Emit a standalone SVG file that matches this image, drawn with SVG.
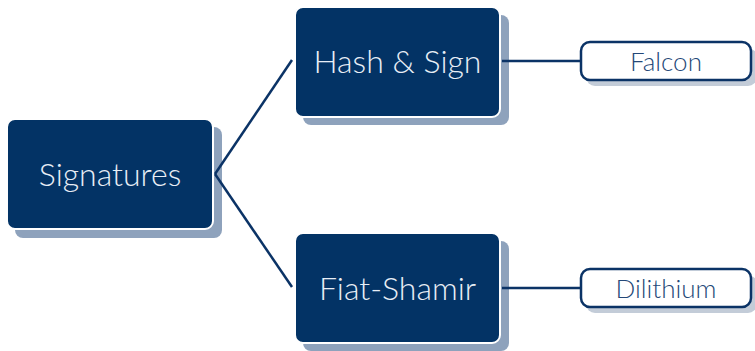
<svg xmlns="http://www.w3.org/2000/svg" width="755" height="351" viewBox="0 0 755 351">
  <style>
    .shadow { fill: #8ea2bc; }
    .box { fill: #033365; stroke: #ffffff; stroke-width: 2; }
    .label { font-family: Lato, "Open Sans", sans-serif; font-weight: 300; font-size: 32px; fill: #e8eef6; text-anchor: middle; dominant-baseline: central; }
    .leaf-shadow { fill: #c3ccd8; }
    .leaf { fill: #ffffff; stroke: #0b3366; stroke-width: 2.5; }
    .leaf-label { font-family: Lato, "Open Sans", sans-serif; font-weight: 300; font-size: 26px; fill: #244878; text-anchor: middle; dominant-baseline: central; }
    .edge { fill: none; stroke: #0b3366; stroke-width: 2.5; }
  </style>

  <g id="signatures">
    <rect class="shadow" x="15" y="127" width="207" height="111" rx="8"/>
    <rect class="box" x="7" y="119" width="206" height="110" rx="8"/>
    <text class="label" x="110" y="173">Signatures</text>
  </g>

  <g id="hash-sign">
    <rect class="shadow" x="303" y="15" width="206" height="110" rx="8"/>
    <rect class="box" x="295" y="7" width="205" height="110" rx="8"/>
    <text class="label" x="397.5" y="60">Hash &amp; Sign</text>
  </g>

  <g id="fiat-shamir">
    <rect class="shadow" x="303" y="241" width="206" height="110" rx="8"/>
    <rect class="box" x="295" y="233" width="205" height="110" rx="8"/>
    <text class="label" x="397.5" y="287">Fiat-Shamir</text>
  </g>

  <g id="falcon">
    <rect class="leaf-shadow" x="586" y="48" width="171" height="38" rx="9"/>
    <rect class="leaf" x="581" y="42" width="170" height="38" rx="9"/>
    <text class="leaf-label" x="666" y="61">Falcon</text>
  </g>

  <g id="dilithium">
    <rect class="leaf-shadow" x="586" y="275" width="171" height="38" rx="9"/>
    <rect class="leaf" x="581" y="269" width="170" height="38" rx="9"/>
    <text class="leaf-label" x="666" y="288">Dilithium</text>
  </g>

  <g id="connectors">
    <path class="edge" d="M215 174 L292 60"/>
    <path class="edge" d="M215 174 L292 287"/>
    <path class="edge" d="M502 61 L580 61"/>
    <path class="edge" d="M502 288 L580 288"/>
  </g>
</svg>
